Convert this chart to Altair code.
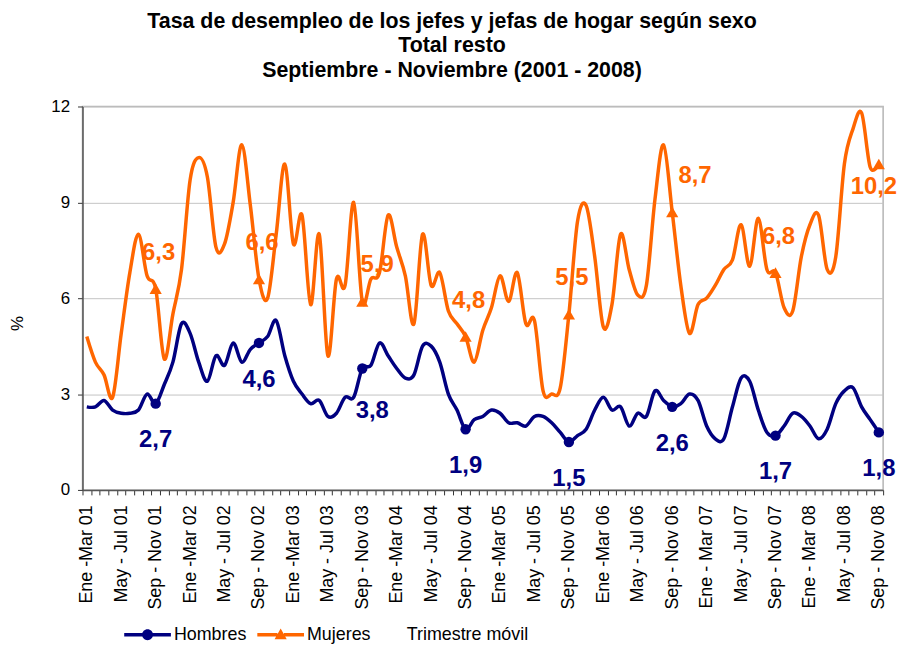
import altair as alt
import pandas as pd

# --- data -------------------------------------------------------------------
tick_labels = [
    "Ene -Mar 01", "May - Jul 01", "Sep - Nov 01",
    "Ene -Mar 02", "May - Jul 02", "Sep - Nov 02",
    "Ene -Mar 03", "May - Jul 03", "Sep - Nov 03",
    "Ene -Mar 04", "May - Jul 04", "Sep - Nov 04",
    "Ene -Mar 05", "May - Jul 05", "Sep - Nov 05",
    "Ene -Mar 06", "May - Jul 06", "Sep - Nov 06",
    "Ene - Mar 07", "May - Jul 07", "Sep - Nov 07",
    "Ene - Mar 08", "May - Jul 08", "Sep - Nov 08",
]

hombres = [
    2.6, 2.6, 2.8, 2.5, 2.4, 2.4, 2.5, 3.0, 2.7, 3.3, 4.0, 5.2,
    4.9, 4.0, 3.4, 4.2, 3.9, 4.6, 4.0, 4.4, 4.6, 4.8, 5.3, 4.2,
    3.4, 3.0, 2.7, 2.8, 2.3, 2.4, 2.9, 2.9, 3.8, 3.9, 4.6, 4.2,
    3.8, 3.5, 3.6, 4.5, 4.5, 4.0, 3.0, 2.5, 1.9, 2.2, 2.3, 2.5,
    2.4, 2.1, 2.1, 2.0, 2.3, 2.3, 2.1, 1.8, 1.5, 1.7, 1.9, 2.5,
    2.9, 2.5, 2.6, 2.0, 2.4, 2.3, 3.1, 2.8, 2.6, 2.7, 3.0, 2.8,
    2.0, 1.6, 1.6, 2.6, 3.5, 3.4, 2.5, 1.8, 1.7, 2.0, 2.4, 2.3,
    2.0, 1.6, 1.9, 2.7, 3.1, 3.2, 2.6, 2.2, 1.8,
]

mujeres = [
    4.8, 4.0, 3.6, 2.9, 4.9, 6.8, 8.0, 6.7, 6.3, 4.1, 5.5, 6.9,
    9.7, 10.4, 9.8, 7.6, 7.7, 9.0, 10.8, 8.9, 6.6, 6.0, 8.0, 10.2,
    7.7, 8.6, 5.8, 8.0, 4.2, 6.6, 6.4, 9.0, 5.9, 6.6, 6.8, 8.6,
    7.6, 6.7, 5.2, 8.0, 6.4, 6.8, 5.6, 5.2, 4.8, 4.0, 5.0, 5.7,
    6.7, 5.9, 6.8, 5.2, 5.3, 3.1, 3.0, 3.2, 5.5, 8.4, 8.9, 7.3,
    5.1, 5.8, 8.0, 6.9, 6.1, 6.4, 9.1, 10.8, 8.7, 6.4, 4.9, 5.8,
    6.0, 6.4, 6.9, 7.2, 8.3, 7.0, 8.5, 6.9, 6.8, 5.7, 5.6, 7.3,
    8.3, 8.6, 6.9, 7.3, 10.2, 11.3, 11.8, 10.1, 10.2,
]

series = ["Hombres", "Mujeres"]
colores = ["#000080", "#FF6600"]

# --- table -------------------------------------------------------------------
n = len(hombres)
rows = []
for i in range(n):
    rows.append({"idx": i, "serie": "Hombres", "valor": hombres[i]})
    rows.append({"idx": i, "serie": "Mujeres", "valor": mujeres[i]})
df = pd.DataFrame(rows)
df["etiqueta"] = df["valor"].map(lambda v: f"{v:.1f}".replace(".", ","))
df["sepnov"] = (df["idx"] % 12 == 8)

FONT = "Liberation Sans"
PLOT_W, PLOT_H = 806, 386
half = PLOT_W / n / 2

js_labels = "[" + ",".join("'" + t + "'" for t in tick_labels) + "]"
label_expr = (
    "(round(datum.value + 0.5) % 4 == 0) ? "
    + js_labels + "[round(datum.value + 0.5) / 4] : ''"
)

X = alt.X(
    "idx:Q",
    scale=alt.Scale(domain=[-0.5, n - 0.5], nice=False, zero=False),
    axis=alt.Axis(
        values=[k - 0.5 for k in range(n + 1)],
        labelExpr=label_expr,
        labelAngle=270,
        labelAlign="right",
        labelBaseline="middle",
        labelOffset=half,
        labelPadding=10,
        labelFontSize=18,
        labelOverlap=False,
        labelBound=False,
        labelFlush=False,
        tickSize=5,
        grid=False,
        title="Trimestre móvil",
        titleFontSize=18,
        titleFontWeight="normal",
        titleX=387,
        titleY=151,
        titleBaseline="alphabetic",
        titleAlign="center",
    ),
)

Y = alt.Y(
    "valor:Q",
    scale=alt.Scale(domain=[0, 12], nice=False, zero=True),
    axis=alt.Axis(
        values=[0, 3, 6, 9, 12],
        grid=True,
        gridColor="#c4c4c4",
        gridWidth=1,
        tickSize=5,
        labelFontSize=17,
        labelPadding=8,
        title="%",
        titleFontSize=17,
        titleFontWeight="normal",
        titleX=-65,
        titleY=218,
        titleBaseline="middle",
        titleAlign="center",
    ),
)

base = alt.Chart(df)

layers = []
for s, c in zip(series, colores):
    layers.append(
        base.transform_filter(f"datum.serie == '{s}'")
        .mark_line(color=c, strokeWidth=3.5, interpolate="cardinal")
        .encode(x=X, y=Y)
    )

layers.append(
    base.transform_filter("datum.serie == 'Hombres' && datum.sepnov")
    .mark_point(shape="circle", filled=True, size=110, color=colores[0], opacity=1)
    .encode(x=X, y=Y)
)
layers.append(
    base.transform_filter("datum.serie == 'Mujeres' && datum.sepnov")
    .mark_point(shape="triangle-up", filled=True, size=150, color=colores[1], opacity=1)
    .encode(x=X, y=Y)
)


def etiquetas(serie, color, filtro, dx, dy):
    return (
        base.transform_filter(f"datum.serie == '{serie}' && datum.sepnov && ({filtro})")
        .mark_text(font=FONT, fontWeight="bold", fontSize=24, color=color,
                   dx=dx, dy=dy, align="center", baseline="middle")
        .encode(x=X, y=Y, text="etiqueta:N")
    )


layers.append(etiquetas("Hombres", colores[0], "datum.idx != 32", 0, 37))
layers.append(etiquetas("Hombres", colores[0], "datum.idx == 32", 10, 43))
layers.append(etiquetas("Mujeres", colores[1],
                        "datum.idx != 32 && datum.idx != 68 && datum.idx != 92", 3, -36))
layers.append(etiquetas("Mujeres", colores[1], "datum.idx == 32", 15, -37))
layers.append(etiquetas("Mujeres", colores[1], "datum.idx == 68", 23, -36))
layers.append(etiquetas("Mujeres", colores[1], "datum.idx == 92", -5, 23))

# legend layer (invisible marks, legend symbols = line + marker)
path_h = ("M-1,-0.075L-0.22,-0.075L-0.22,0.075L-1,0.075Z "
          "M0.22,-0.075L1,-0.075L1,0.075L0.22,0.075Z "
          "M-0.234,0A0.234,0.234 0 1,1 0.234,0A0.234,0.234 0 1,1 -0.234,0Z")
path_m = ("M-1,-0.075L-0.14,-0.075L-0.14,0.075L-1,0.075Z "
          "M0.14,-0.075L1,-0.075L1,0.075L0.14,0.075Z "
          "M0,-0.27L0.26,0.2L-0.26,0.2Z")

leg = alt.Legend(
    title=None, orient="none", legendX=42, legendY=508, direction="horizontal",
    symbolSize=2209, symbolStrokeWidth=0, symbolOpacity=1,
    labelFontSize=18, labelFont=FONT, labelColor="black", labelOffset=3,
    columnPadding=10, padding=0,
)
layers.append(
    base.transform_filter("datum.sepnov")
    .mark_point(filled=True, opacity=0)
    .encode(
        x=X, y=Y,
        color=alt.Color("serie:N", scale=alt.Scale(domain=series, range=colores), legend=leg),
        shape=alt.Shape("serie:N", scale=alt.Scale(domain=series, range=[path_h, path_m]), legend=leg),
    )
)

chart = (
    alt.layer(*layers)
    .properties(
        width=PLOT_W,
        height=PLOT_H,
        autosize=alt.AutoSizeParams(type="none"),
        padding={"left": 75, "top": 97, "right": 18, "bottom": 158},
        title=alt.TitleParams(
            text=["Tasa de desempleo de los jefes y jefas de hogar según sexo",
                  "Total resto",
                  "Septiembre - Noviembre (2001 - 2008)"],
            font=FONT, fontSize=21.5, fontWeight="bold", color="black",
            anchor="middle", dx=-31, offset=16, lineHeight=25,
        ),
    )
    .configure(font=FONT)
    .configure_view(stroke="#b4b4b4", strokeWidth=1.5)
    .configure_axis(
        domainColor="#555555", domainWidth=1.5, tickColor="#333333",
        labelColor="black", titleColor="black", labelFont=FONT, titleFont=FONT,
    )
)

chart.save("out.html", embed_options={"renderer": "svg", "actions": False})
